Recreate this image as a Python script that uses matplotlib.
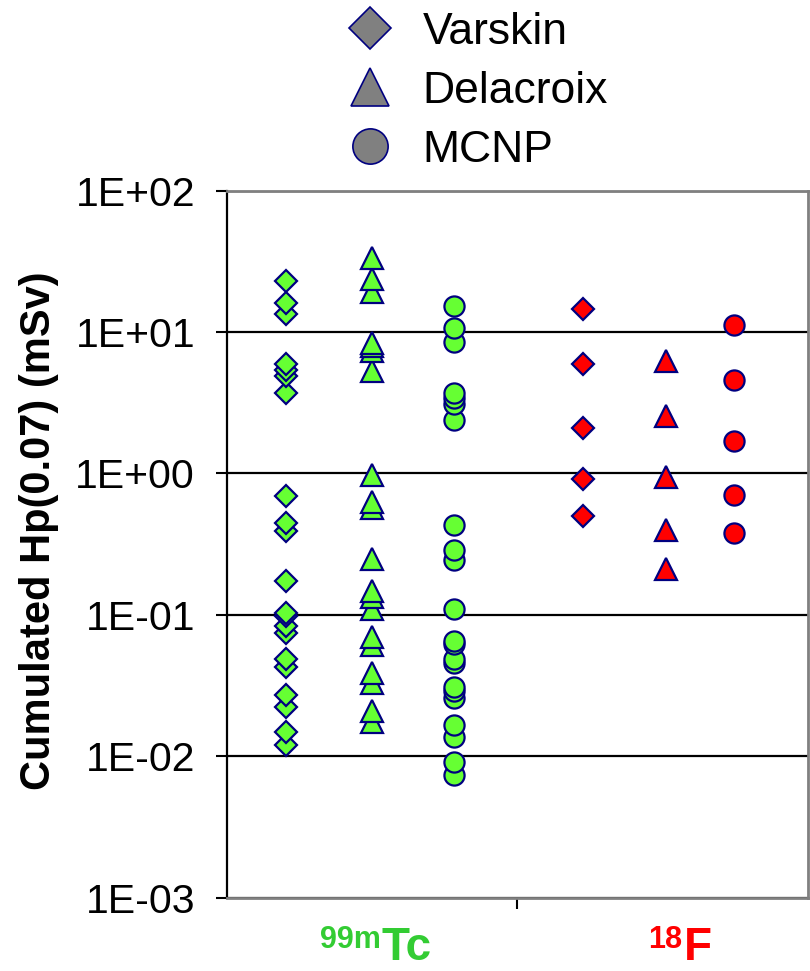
import numpy as np
import matplotlib.pyplot as plt
from matplotlib.lines import Line2D
from matplotlib.ticker import FixedLocator, NullLocator, FuncFormatter

plt.rcParams['font.family'] = ['Liberation Sans', 'DejaVu Sans']

# Cumulated Hp(0.07) values (mSv)
varskin_tc = [23, 16, 13.5, 5.9, 5.4, 4.9, 3.7, 0.69, 0.45, 0.39, 0.175, 0.104,
              0.098, 0.084, 0.075, 0.049, 0.043, 0.027, 0.0225, 0.015, 0.012]
delacroix_tc = [33.5, 23.8, 19.3, 8.4, 8.0, 7.3, 5.3, 0.98, 0.63, 0.57, 0.25,
                0.148, 0.135, 0.11, 0.07, 0.061, 0.039, 0.033, 0.021, 0.0176]
mcnp_tc = [15.3, 10.6, 8.5, 3.7, 3.4, 3.1, 2.4, 0.43, 0.29, 0.245, 0.11, 0.066,
           0.062, 0.049, 0.046, 0.031, 0.029, 0.026, 0.0167, 0.0138, 0.0092, 0.0074]
varskin_f = [14.5, 5.9, 2.1, 0.92, 0.5]
delacroix_f = [6.2, 2.55, 0.95, 0.4, 0.21]
mcnp_f = [11.2, 4.6, 1.7, 0.7, 0.38]

methods = ["Varskin", "Delacroix", "MCNP"]
# column x positions on a 0..2 category axis
x_tc = [0.203, 0.499, 0.781]
x_f = [1.225, 1.511, 1.745]

ytick_vals = [1e-3, 1e-2, 1e-1, 1e0, 1e1, 1e2]

green = "#66FF33"
red = "#FF0000"
navy = "#000080"
markers = {"Varskin": ("D", 11), "Delacroix": ("^", 15.5), "MCNP": ("o", 14.5)}

fig = plt.figure(figsize=(8.1, 9.71), dpi=100)
ax = fig.add_axes([0.2802, 0.0752, 0.7173, 0.7286])

tc_sets = [varskin_tc, delacroix_tc, mcnp_tc]
f_sets = [varskin_f, delacroix_f, mcnp_f]
for name, xp, vals in zip(methods, x_tc, tc_sets):
    m, ms = markers[name]
    v = sorted(vals)
    ax.plot([xp] * len(v), v, linestyle="none", marker=m, markersize=ms,
            markerfacecolor=green, markeredgecolor=navy, markeredgewidth=1.6,
            zorder=3, clip_on=False)
for name, xp, vals in zip(methods, x_f, f_sets):
    m, ms = markers[name]
    ax.plot([xp] * len(vals), vals, linestyle="none", marker=m, markersize=ms,
            markerfacecolor=red, markeredgecolor=navy, markeredgewidth=1.6,
            zorder=3, clip_on=False)

ax.set_yscale("log")
ax.set_ylim(1e-3, 1e2)
ax.set_xlim(0, 2)
ax.yaxis.set_major_locator(FixedLocator(ytick_vals))
ax.yaxis.set_minor_locator(NullLocator())
ax.yaxis.set_major_formatter(FuncFormatter(lambda v, p: f"{v:.0E}"))
ax.tick_params(axis="y", direction="out", length=8, width=1.5, pad=15,
               labelsize=29.5, colors="black")
ax.set_xticks([1.0])
ax.set_xticklabels([""])
ax.tick_params(axis="x", direction="out", length=8, width=1.5)

ax.grid(axis="y", color="black", linewidth=1.6)
ax.set_axisbelow(True)
for s in ["top", "right", "bottom"]:
    ax.spines[s].set_color("#808080")
    ax.spines[s].set_linewidth(2)
ax.spines["left"].set_color("black")
ax.spines["left"].set_linewidth(1.6)

fig.text(39 / 810, 1 - 531 / 971, "Cumulated Hp(0.07) (mSv)", rotation=90,
         ha="center", va="center", fontsize=30, fontweight="bold")

# category labels with isotope superscripts
fig.text(381 / 810, 11 / 971, "Tc", ha="left", va="baseline", fontsize=33,
         fontweight="bold", color="#33CC33")
fig.text(381 / 810, 23 / 971, "99m", ha="right", va="baseline", fontsize=22,
         fontweight="bold", color="#33CC33")
fig.text(684 / 810, 11 / 971, "F", ha="left", va="baseline", fontsize=33,
         fontweight="bold", color="red")
fig.text(682 / 810, 23 / 971, "18", ha="right", va="baseline", fontsize=22,
         fontweight="bold", color="red")

handles = [Line2D([], [], linestyle="none", marker=markers[n][0],
                  markersize=markers[n][1] * (1.9 if n == "Varskin" else 1.75),
                  markerfacecolor="#808080", markeredgecolor=navy,
                  markeredgewidth=1.2) for n in methods]
fig.legend(handles, methods, loc="upper left",
           bbox_to_anchor=(348 / 810, 1 - 12 / 971), fontsize=32,
           frameon=False, handlelength=1.0, handletextpad=0.68,
           labelspacing=0.4, borderpad=0, borderaxespad=0)

fig.savefig("out.png", dpi=100)
